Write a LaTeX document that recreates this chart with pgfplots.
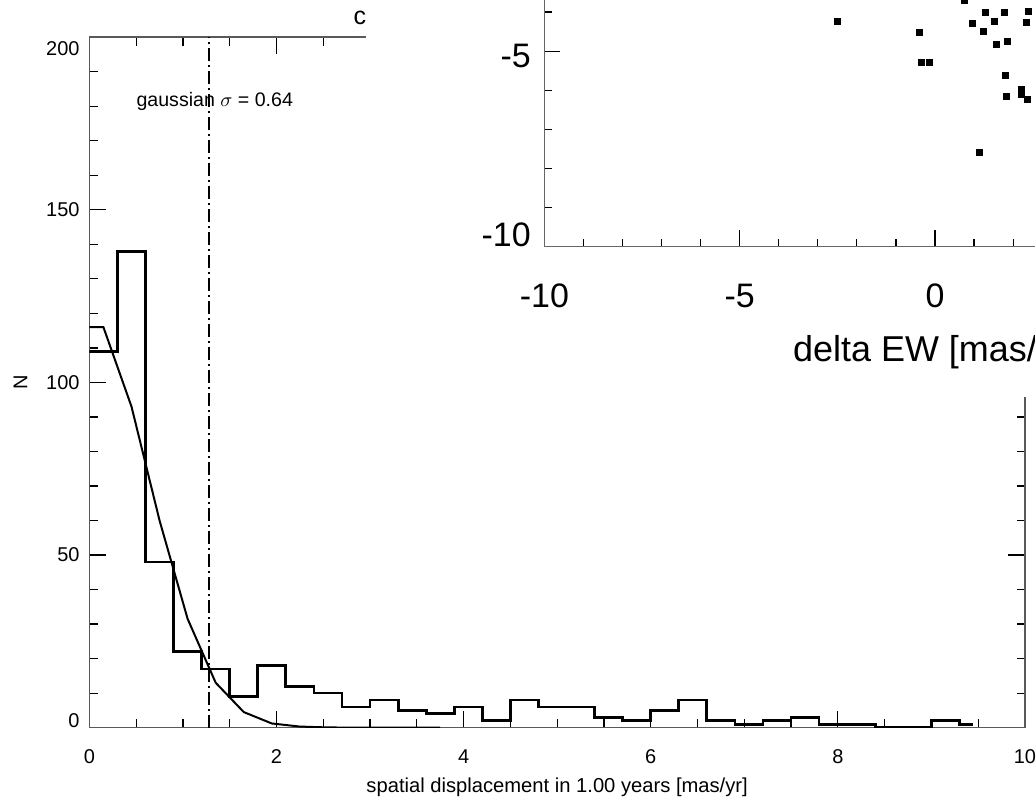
\documentclass[border=0pt]{standalone}
\usepackage{fontspec}
\setmainfont{Liberation Sans}
\usepackage{pgfplots}
\pgfplotsset{compat=1.18}
\begin{document}
\begin{tikzpicture}
\path (0,0) rectangle (518pt,399pt);
\begin{axis}[
  at={(44.75pt,34.8pt)}, anchor=south west,
  scale only axis, width=468.25pt, height=345.55pt,
  xmin=0, xmax=10, ymin=0, ymax=200,
  xtick={0,2,4,6,8,10}, xticklabels={0,2,4,6,8,10},
  minor x tick num=3,
  ytick={0,50,100,150,200}, minor y tick num=4,
  yticklabel={\ifcase\ticknum\relax\smash{0}\or 50\or 100\or 150\or\smash{\raisebox{-9pt}{200}}\fi},
  tick align=inside, tick pos=both,
  major tick length=8.5pt, minor tick length=4.2pt,
  axis line style={black!65, line width=0.8pt},
  every tick/.style={black, line width=0.6pt},
  font=\fontsize{10}{12}\selectfont,
  xticklabel style={inner sep=0pt, anchor=north, yshift=-10.8pt},
  yticklabel style={inner sep=0pt, anchor=east, xshift=-4.75pt},
  xlabel={spatial displacement in 1.00 years [mas/yr]},
  xlabel style={at={(axis description cs:0.5,0)}, anchor=north, inner sep=0pt, yshift=-24.8pt, font=\fontsize{10.1}{12}\selectfont},
  ylabel={N},
  ylabel style={at={(axis description cs:-0.0737,0.5)}, anchor=center, inner sep=0pt, font=\fontsize{10}{12}\selectfont},
]
\addplot[const plot, mark=none, line width=1.4pt, black] coordinates {
(0.0,109) (0.3,138) (0.6,48) (0.9,22) (1.2,17) (1.5,9) (1.8,18) (2.1,12)
(2.4,10) (2.7,6) (3.0,8) (3.3,5) (3.6,4) (3.9,6) (4.2,2) (4.5,8) (4.8,6)
(5.1,6) (5.4,3) (5.7,2) (6.0,5) (6.3,8) (6.6,2) (6.9,1) (7.2,2) (7.5,3)
(7.8,1) (8.1,1) (8.4,0) (8.7,0) (9.0,2) (9.3,1) (9.45,1)
};
\addplot[mark=none, line width=1pt, black] coordinates {
(0,116) (0.15,116) (0.45,93) (0.75,60) (1.05,31.5) (1.35,13) (1.65,4.5)
(1.95,1.2) (2.25,0.3) (2.55,0.05) (2.85,0) (3.15,0) (3.45,0) (3.75,0)
};
\addplot[mark=none, line width=0.9pt, black, dash pattern=on 6.5pt off 2pt on 1pt off 2pt] coordinates {(1.28,0) (1.28,200)};
\node[anchor=base west, inner sep=0pt, font=\fontsize{9.8}{11}\selectfont] at (axis cs:0.5,180) {gaussian $\sigma$ = 0.64};
\end{axis}
\node[anchor=base east, inner sep=0pt, font=\fontsize{12.5}{15}\selectfont] at (183.5pt,386.5pt) {c};
\begin{scope}[overlay]
\clip (0,0) rectangle (518pt,399pt);
\fill[white] (183pt,200.5pt) rectangle (520pt,400pt);
\begin{axis}[
  at={(272.5pt,275.65pt)}, anchor=south west,
  scale only axis, width=391pt, height=391pt,
  xmin=-10, xmax=10, ymin=-10, ymax=10,
  xtick={-10,-5,0,5,10}, ytick={-10,-5,0,5,10}, minor tick num=4,
  xticklabels={-10,-5,0,5,10},
  yticklabel={\ifcase\ticknum\relax\smash{-10}\or\smash{\raisebox{-8.3pt}{-5}}\or 0\or 5\or 10\fi},
  tick align=inside,
  major tick length=8pt, minor tick length=3.75pt,
  axis line style={black!60, line width=0.8pt},
  every tick/.style={black, line width=0.6pt},
  font=\fontsize{17}{20}\selectfont,
  xticklabel style={inner sep=0pt, anchor=north, yshift=-18.65pt},
  yticklabel style={inner sep=0pt, anchor=east, xshift=-6.65pt},
  xlabel={delta EW [mas/yr]},
  xlabel style={at={(axis description cs:0.5,0)}, anchor=north, inner sep=0pt, yshift=-44.2pt, font=\fontsize{18}{21}\selectfont},
]
\addplot[only marks, mark=square*, mark size=1.5pt, black] coordinates {
(0.76,-3.71) (1.28,-4.00) (1.77,-4.02) (2.39,-3.97) (0.97,-4.30) (1.53,-4.25)
(2.35,-4.26) (-0.41,-4.53) (1.25,-4.49) (1.57,-4.82) (1.85,-4.74) (-0.34,-5.29)
(-0.14,-5.30) (1.79,-5.63) (1.83,-6.15) (2.21,-5.99) (2.21,-6.12) (2.37,-6.23)
(1.13,-7.59) (-2.49,-4.25)
};
\end{axis}
\end{scope}
\end{tikzpicture}
\end{document}
